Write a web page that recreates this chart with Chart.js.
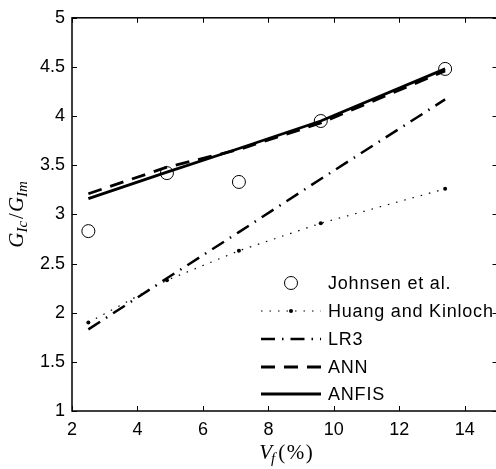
<!DOCTYPE html>
<html lang="en">
<head>
  <meta charset="UTF-8">
  <title>G_Ic/G_Im vs Vf</title>
  <script src="https://cdn.jsdelivr.net/npm/chart.js"></script>
  <style>
    html, body { margin: 0; padding: 0; background: #fff; overflow: hidden; }
    #wrap { width: 505px; height: 469px; }
  </style>
</head>
<body>
  <div id="wrap"><canvas id="chart" width="505" height="469"></canvas></div>

  <script>
    // data
    const vf = [2.5, 4.9, 7.1, 9.6, 13.4];
    const johnsen = [2.83, 3.42, 3.33, 3.95, 4.48];
    const huang = [1.90, 2.33, 2.63, 2.91, 3.26];
    const lr3 = [1.83, 2.35, 2.82, 3.36, 4.17];
    const ann = [3.21, 3.48, 3.66, 3.93, 4.46];
    const anfis = [3.16, 3.43, 3.67, 3.95, 4.48];

    const xTicks = [2, 4, 6, 8, 10, 12, 14];
    const yTicks = [1, 1.5, 2, 2.5, 3, 3.5, 4, 4.5, 5];
    const names = ['Johnsen et al.', 'Huang and Kinloch', 'LR3', 'ANN', 'ANFIS'];

    const pts = arr => arr.map((v, i) => ({ x: vf[i], y: v }));
    const tickFont = { family: 'Liberation Sans, Arial, sans-serif', size: 18 };

    // draw a small math-ish string made of pieces, centred on (cx, cy)
    function drawMath(ctx, parts, cx, cy) {
      let w = 0;
      parts.forEach(p => { ctx.font = p.font; p.w = ctx.measureText(p.t).width; w += p.w + (p.gap || 0); });
      let x = cx - w / 2;
      ctx.textBaseline = 'alphabetic';
      ctx.textAlign = 'left';
      parts.forEach(p => {
        ctx.font = p.font;
        ctx.fillText(p.t, x, cy + (p.dy || 0));
        x += p.w + (p.gap || 0);
      });
    }

    const decor = {
      id: 'decor',
      afterDraw(chart) {
        const { ctx, chartArea: a, scales: { x, y } } = chart;
        ctx.save();
        ctx.strokeStyle = '#000';
        ctx.fillStyle = '#000';
        ctx.lineWidth = 1.5;
        ctx.strokeRect(a.left, a.top, a.right - a.left, a.bottom - a.top);
        ctx.lineWidth = 1;
        ctx.beginPath();
        xTicks.forEach(v => {
          const px = Math.round(x.getPixelForValue(v)) + 0.5;
          ctx.moveTo(px, a.bottom); ctx.lineTo(px, a.bottom - 5);
          ctx.moveTo(px, a.top); ctx.lineTo(px, a.top + 5);
        });
        yTicks.forEach(v => {
          const py = Math.round(y.getPixelForValue(v)) + 0.5;
          ctx.moveTo(a.left, py); ctx.lineTo(a.left + 5, py);
          ctx.moveTo(a.right, py); ctx.lineTo(a.right - 5, py);
        });
        ctx.stroke();

        // axis titles
        const it = 'italic 21px "Liberation Serif", serif';
        const itS = 'italic 15px "Liberation Serif", serif';
        const up = '21px "Liberation Serif", serif';
        drawMath(ctx, [
          { t: 'V', font: it, gap: -1 },
          { t: 'f', font: itS, dy: 4, gap: 3 },
          { t: '(', font: up, gap: 1.5 },
          { t: '%', font: up, gap: 1.5 },
          { t: ')', font: up }
        ], 286, 459);

        ctx.translate(23, (a.top + a.bottom) / 2);
        ctx.rotate(-Math.PI / 2);
        drawMath(ctx, [
          { t: 'G', font: it },
          { t: 'Ic', font: itS, dy: 4, gap: 2 },
          { t: '/', font: up, gap: 1 },
          { t: 'G', font: it },
          { t: 'Im', font: itS, dy: 4 }
        ], 0, 0);
        ctx.restore();

        // legend
        ctx.save();
        ctx.fillStyle = '#000';
        ctx.font = '18px "Liberation Sans", Arial, sans-serif';
        ctx.letterSpacing = '0.8px';
        ctx.textBaseline = 'middle';
        const x0 = 261, x1 = 321, tx = 328;
        const rows = [283, 311, 339, 367, 394];
        chart.data.datasets.forEach((ds, i) => {
          const ry = rows[i];
          ctx.strokeStyle = '#000';
          if (ds.showLine !== false) {
            ctx.lineWidth = ds.borderWidth;
            ctx.setLineDash(ds.borderDash || []);
            ctx.beginPath();
            ctx.moveTo(x0, ry); ctx.lineTo(x1, ry);
            ctx.stroke();
            ctx.setLineDash([]);
          }
          if (ds.pointRadius > 0) {
            ctx.lineWidth = ds.pointBorderWidth || 1;
            ctx.beginPath();
            ctx.arc((x0 + x1) / 2, ry, ds.pointRadius, 0, Math.PI * 2);
            if (ds.pointBackgroundColor === '#000') ctx.fill();
            else ctx.stroke();
          }
          ctx.fillText(names[i], tx, ry + 1);
        });
        ctx.restore();
      }
    };

    new Chart(document.getElementById('chart'), {
      type: 'scatter',
      data: {
        datasets: [
          {
            label: names[0], data: pts(johnsen), showLine: false,
            pointRadius: 6.5, pointBorderWidth: 1, pointBorderColor: '#000',
            pointBackgroundColor: 'rgba(0,0,0,0)'
          },
          {
            label: names[1], data: pts(huang), showLine: true, borderColor: '#000',
            borderWidth: 1.2, borderDash: [1.5, 7], pointRadius: 2,
            pointBackgroundColor: '#000', pointBorderColor: '#000', pointBorderWidth: 0
          },
          {
            label: names[2], data: pts(lr3), showLine: true, borderColor: '#000',
            borderWidth: 2.5, borderDash: [14, 7, 1.5, 7], pointRadius: 0
          },
          {
            label: names[3], data: pts(ann), showLine: true, borderColor: '#000',
            borderWidth: 2.8, borderDash: [14, 9], pointRadius: 0
          },
          {
            label: names[4], data: pts(anfis), showLine: true, borderColor: '#000',
            borderWidth: 2.8, pointRadius: 0
          }
        ]
      },
      options: {
        responsive: false,
        animation: false,
        layout: { padding: { left: 0, top: 14, right: 3, bottom: 0 } },
        plugins: { legend: { display: false }, tooltip: { enabled: false } },
        elements: { line: { tension: 0 } },
        scales: {
          x: {
            type: 'linear', min: 2, max: 15,
            afterBuildTicks: s => { s.ticks = xTicks.map(v => ({ value: v })); },
            afterFit: s => { s.height = 58; },
            grid: { display: false, drawTicks: false },
            border: { display: false },
            ticks: { color: '#000', font: tickFont, padding: 8, maxRotation: 0, callback: v => String(v) }
          },
          y: {
            type: 'linear', min: 1, max: 5,
            afterBuildTicks: s => { s.ticks = yTicks.map(v => ({ value: v })); },
            afterFit: s => { s.width = 72; },
            grid: { display: false, drawTicks: false },
            border: { display: false },
            ticks: { color: '#000', font: tickFont, padding: 7, callback: v => String(v) }
          }
        }
      },
      plugins: [decor]
    });
  </script>
</body>
</html>
